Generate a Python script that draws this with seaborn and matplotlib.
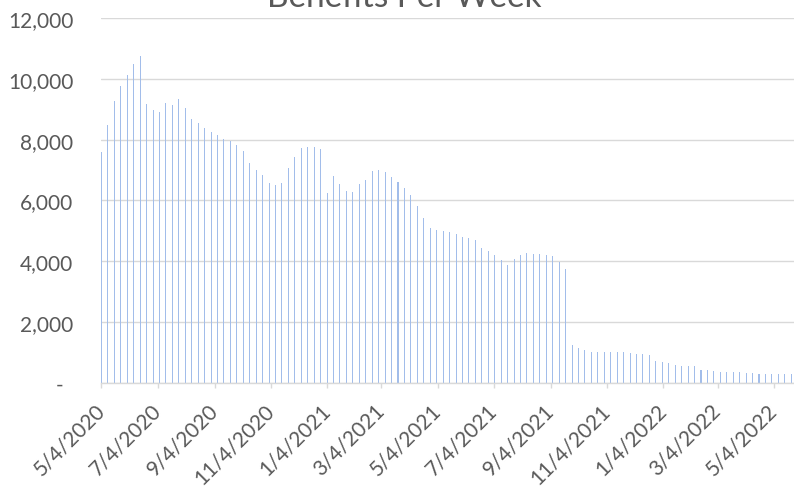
import matplotlib
matplotlib.use("Agg")
import matplotlib.pyplot as plt
import matplotlib.transforms as mtransforms
import pandas as pd
import seaborn as sns

# weekly benefits, first week starting 5/4/2020
benefits = [
    7580, 8500, 9280, 9770, 10130, 10480, 10760, 9170, 8980, 8920,
    9210, 9140, 9340, 9030, 8680, 8540, 8370, 8240, 8140, 8020,
    7950, 7820, 7620, 7220, 6990, 6840, 6560, 6510, 6590, 7070,
    7420, 7720, 7760, 7750, 7680, 6240, 6790, 6550, 6310, 6280,
    6550, 6670, 6970, 7000, 6930, 6760, 6600, 6400, 6170, 5810,
    5410, 5090, 5010, 4990, 4970, 4910, 4800, 4750, 4690, 4420,
    4330, 4200, 4030, 3870, 4080, 4200, 4280, 4230, 4230, 4200,
    4170, 3980, 3740, 1250, 1130, 1070, 1010, 1010, 1010, 1010,
    990, 990, 970, 930, 930, 900, 710, 690, 655, 590,
    545, 545, 555, 410, 400, 380, 355, 345, 335, 335,
    320, 310, 290, 290, 280, 280, 280, 280,
]
first_week = "2020-05-04"
tick_labels = ["5/4/2020", "7/4/2020", "9/4/2020", "11/4/2020", "1/4/2021",
               "3/4/2021", "5/4/2021", "7/4/2021", "9/4/2021", "11/4/2021",
               "1/4/2022", "3/4/2022", "5/4/2022"]
y_ticks = [0, 2000, 4000, 6000, 8000, 10000, 12000]

weeks = pd.date_range(first_week, periods=len(benefits), freq="7D")
df = pd.DataFrame({"day": (weeks - weeks[0]).days, "benefits": benefits})
tick_days = [(pd.to_datetime(t, format="%m/%d/%Y") - weeks[0]).days for t in tick_labels]

sns.set_theme(style="white")
plt.rcParams["font.family"] = ["Lato", "DejaVu Sans"]

grey = "#595959"
line = "#d9d9d9"

fig = plt.figure(figsize=(7.94, 4.89), dpi=100)
ax = fig.add_axes([0.1272, 0.2157, 0.8728, 0.7448])

sns.barplot(data=df, x="day", y="benefits", native_scale=True, width=0.16,
            color="#a2bdea", saturation=1, linewidth=0, errorbar=None, ax=ax)

ax.set_xlim(-0.5, 752)
ax.set_ylim(0, 12000)
ax.set_xlabel("")
ax.set_ylabel("")

ax.set_axisbelow(True)
ax.yaxis.grid(True, color=line, linewidth=1.0)
for side in ["left", "top", "right"]:
    ax.spines[side].set_visible(False)
ax.spines["bottom"].set_color(line)
ax.spines["bottom"].set_linewidth(1.0)

ax.set_yticks(y_ticks)
ax.set_yticklabels(["-" if v == 0 else f"{v:,}" for v in y_ticks])
ax.tick_params(axis="y", left=False, length=0, pad=20, labelsize=15, labelcolor=grey)

ax.set_xticks(tick_days)
ax.set_xticklabels(tick_labels)
ax.tick_params(axis="x", bottom=True, direction="out", length=3.6, width=1.0,
               color=line, pad=14, labelsize=15, labelcolor=grey)
for lbl in ax.get_xticklabels():
    lbl.set_rotation(45)
    lbl.set_ha("right")
    lbl.set_va("center")
    lbl.set_rotation_mode("anchor")

# zero label "-" sits a bit left like the accounting format
zero_lbl = ax.get_yticklabels()[0]
zero_lbl.set_transform(zero_lbl.get_transform()
                       + mtransforms.ScaledTranslation(-10 / 100, 0, fig.dpi_scale_trans))

# title is cropped at the top edge in the original chart too
fig.text(0.509, 0.9857, "Benefits Per Week", ha="center", va="baseline",
         fontsize=24, color=grey)

fig.savefig("out.png", dpi=100)
